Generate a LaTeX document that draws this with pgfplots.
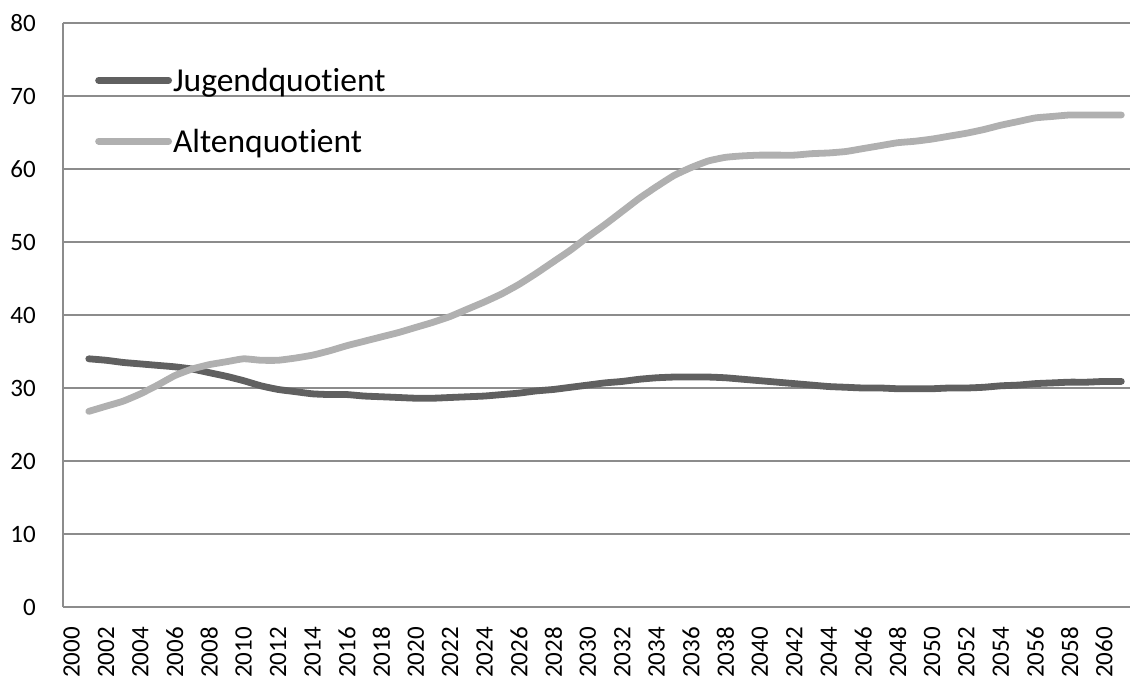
\documentclass[border=0pt]{standalone}
\usepackage{pgfplots}
\pgfplotsset{compat=1.18}
\usepackage{fontspec}
\setmainfont{Carlito}[Ligatures=NoCommon]

\definecolor{jugend}{RGB}{96,96,96}
\definecolor{alten}{RGB}{176,176,176}
\definecolor{gridgray}{RGB}{140,140,140}

\begin{document}
\begin{tikzpicture}
\path[use as bounding box] (-63bp,-72bp) rectangle (1068bp,607bp);
\begin{axis}[
  at={(0,0)}, anchor=south west,
  scale only axis,
  width=1067bp, height=584bp,
  xmin=1999.5, xmax=2061.5,
  ymin=0, ymax=80,
  xtick={2000,2002,...,2060},
  ytick={0,10,...,80},
  major tick length=0pt,
  axis x line*=bottom,
  axis y line*=left,
  axis line style={gridgray, line width=1.5bp, -},
  ymajorgrids,
  grid style={gridgray, line width=1.5bp},
  /pgf/number format/assume math mode=true,
  /pgf/number format/1000 sep={},
  xticklabel style={rotate=90, anchor=east, inner sep=0pt, xshift=-20bp,
    font=\fontsize{25bp}{28bp}\selectfont},
  yticklabel style={anchor=east, inner sep=0pt, xshift=-27bp,
    font=\fontsize{25bp}{28bp}\selectfont},
  legend style={draw=none, fill=none, inner sep=0pt,
    at={(axis description cs:0.030,0.925)}, anchor=north west,
    font=\fontsize{33.5bp}{38bp}\selectfont,
    row sep=34bp,
    nodes={inner sep=1bp, anchor=west}},
  legend cell align=left,
  legend image code/.code={\draw[#1, line cap=round] (0bp,0bp) -- (70bp,0bp);},
  line join=round,
]
\addplot[jugend, line width=6.8bp, line cap=round, smooth, tension=0.3] coordinates {
(2001,34.0)(2002,33.8)(2003,33.5)(2004,33.3)(2005,33.1)(2006,32.9)(2007,32.6)
(2008,32.1)(2009,31.6)(2010,31.0)(2011,30.3)(2012,29.8)(2013,29.5)(2014,29.2)
(2015,29.1)(2016,29.1)(2017,28.9)(2018,28.8)(2019,28.7)(2020,28.6)(2021,28.6)
(2022,28.7)(2023,28.8)(2024,28.9)(2025,29.1)(2026,29.3)(2027,29.6)(2028,29.8)
(2029,30.1)(2030,30.4)(2031,30.7)(2032,30.9)(2033,31.2)(2034,31.4)(2035,31.5)
(2036,31.5)(2037,31.5)(2038,31.4)(2039,31.2)(2040,31.0)(2041,30.8)(2042,30.6)
(2043,30.4)(2044,30.2)(2045,30.1)(2046,30.0)(2047,30.0)(2048,29.9)(2049,29.9)
(2050,29.9)(2051,30.0)(2052,30.0)(2053,30.1)(2054,30.3)(2055,30.4)(2056,30.6)
(2057,30.7)(2058,30.8)(2059,30.8)(2060,30.9)(2061,30.9)
};
\addlegendentry{Jugendquotient}
\addplot[alten, line width=6.8bp, line cap=round, smooth, tension=0.3] coordinates {
(2001,26.8)(2002,27.5)(2003,28.2)(2004,29.2)(2005,30.4)(2006,31.7)(2007,32.6)
(2008,33.2)(2009,33.6)(2010,34.0)(2011,33.8)(2012,33.8)(2013,34.1)(2014,34.5)
(2015,35.1)(2016,35.8)(2017,36.4)(2018,37.0)(2019,37.6)(2020,38.3)(2021,39.0)
(2022,39.8)(2023,40.8)(2024,41.8)(2025,42.9)(2026,44.2)(2027,45.7)(2028,47.3)
(2029,48.9)(2030,50.7)(2031,52.4)(2032,54.2)(2033,56.0)(2034,57.6)(2035,59.1)
(2036,60.2)(2037,61.1)(2038,61.6)(2039,61.8)(2040,61.9)(2041,61.9)(2042,61.9)
(2043,62.1)(2044,62.2)(2045,62.4)(2046,62.8)(2047,63.2)(2048,63.6)(2049,63.8)
(2050,64.1)(2051,64.5)(2052,64.9)(2053,65.4)(2054,66.0)(2055,66.5)(2056,67.0)
(2057,67.2)(2058,67.4)(2059,67.4)(2060,67.4)(2061,67.4)
};
\addlegendentry{Altenquotient}
\end{axis}
\end{tikzpicture}
\end{document}
